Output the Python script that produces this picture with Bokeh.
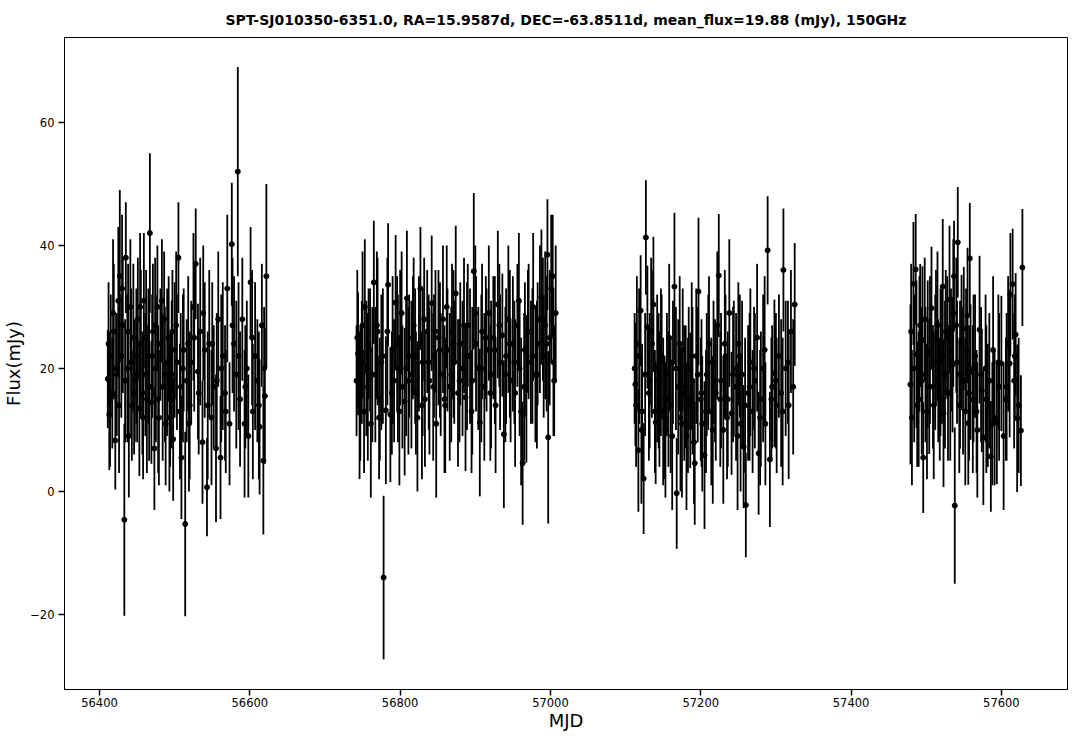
import numpy as np
from bokeh.plotting import figure
from bokeh.models import ColumnDataSource, Range1d, FixedTicker, CustomJSTickFormatter
from bokeh.embed import file_html
from bokeh.resources import INLINE

TITLE = "SPT-SJ010350-6351.0, RA=15.9587d, DEC=-63.8511d, mean_flux=19.88 (mJy), 150GHz"
X_LABEL = "MJD"
Y_LABEL = "Flux(mJy)"
X_TICKS = [56400, 56600, 56800, 57000, 57200, 57400, 57600]
Y_TICKS = [-20, 0, 20, 40, 60]

# ---- season 1 ----
mjd_s1 = [56411, 56413, 56415, 56417, 56419, 56421, 56423, 56425, 56427, 56429,
          56431, 56433, 56435, 56437, 56439, 56441, 56443, 56445, 56447, 56449,
          56451, 56453, 56455, 56457, 56459, 56461, 56463, 56465, 56467, 56469,
          56471, 56473, 56475, 56477, 56479, 56481, 56484, 56486, 56488, 56490,
          56492, 56494, 56496, 56498, 56500, 56502, 56505, 56507, 56509, 56511,
          56514, 56516, 56518, 56520, 56522, 56525, 56528, 56531, 56534, 56537,
          56540, 56543, 56546, 56549, 56552, 56555, 56558, 56561, 56564, 56567,
          56570, 56573, 56576, 56579, 56582, 56584, 56587, 56590, 56593, 56596,
          56598, 56601, 56604, 56607, 56610, 56613, 56616, 56618, 56620, 56622]
flux_s1 = [18.3, 12.5, 22.0, 16.0, 26.0, 8.3, 19.0, 31.0, 35.0, 22.0,
           27.0, -4.6, 38.0, 20.0, 9.0, 30.0, 14.0, 25.0, 18.0, 22.0,
           28.0, 13.5, 24.0, 16.0, 31.0, 19.0, 15.0, 22.0, 42.0, 14.5,
           26.0, 7.0, 20.0, 30.0, 12.0, 24.0, 17.0, 28.0, 11.0, 21.0,
           25.0, 15.0, 19.0, 8.5, 23.0, 27.0, 38.0, 13.0, 5.5, 20.0,
           -5.3, 18.0, 24.0, 14.0, 21.0, 30.0, 37.0, 19.5, 26.0, 8.0,
           23.0, 0.7, 24.0, 12.0, 17.0, 7.0, 28.0, 5.5, 22.0, 16.0,
           33.0, 11.0, 40.2, 24.0, 19.0, 52.0, 15.0, 28.0, 11.0, 20.0,
           9.0, 34.0, 13.0, 22.0, 18.0, 10.5, 27.0, 5.0, 15.5, 35.0]
err_s1 = [8, 9, 10, 9, 11, 8, 10, 12, 14, 10,
          11, 15.6, 9, 12, 10, 11, 9, 12, 10, 11,
          10, 11, 12, 10, 11, 10, 12, 11, 13, 10,
          11, 10, 12, 10, 11, 9, 12, 11, 10, 12,
          10, 11, 12, 10, 11, 12, 9, 11, 10, 12,
          15, 10, 11, 12, 10, 12, 9, 11, 12, 10,
          11, 8, 12, 11, 10, 12, 11, 10, 12, 11,
          12, 10, 10, 11, 12, 17, 11, 10, 12, 11,
          10, 9, 11, 12, 10, 11, 10, 12, 11, 15]
mjd_s1b = [56412, 56414, 56418, 56422, 56426, 56430, 56434, 56438, 56442, 56446,
           56450, 56454, 56458, 56462, 56466, 56470, 56474, 56478, 56483, 56487,
           56493, 56497, 56503, 56508, 56512, 56519, 56526, 56532, 56538, 56544,
           56550, 56556, 56562, 56568, 56577, 56585, 56594, 56603, 56612, 56619]
flux_s1b = [24, 15, 29, 20, 14, 33, 18, 26, 21, 16,
            19, 30, 12, 25, 17, 22, 27, 15, 31, 19,
            12, 26, 21, 17, 23, 11, 25, 16, 29, 14,
            24, 18, 20, 13, 27, 22, 17, 25, 14, 20]
err_s1b = [10, 11, 12, 9, 11, 12, 10, 11, 12, 10,
           11, 12, 10, 11, 12, 10, 11, 12, 10, 11,
           12, 10, 11, 12, 10, 11, 12, 10, 11, 12,
           10, 11, 12, 10, 11, 12, 10, 11, 12, 10]

# ---- season 2 ----
mjd_s2 = [56742, 56744, 56747, 56750, 56752, 56755, 56758, 56761, 56765, 56767,
          56770, 56773, 56775, 56778, 56781, 56784, 56787, 56790, 56792, 56794,
          56797, 56800, 56803, 56806, 56809, 56812, 56815, 56818, 56821, 56823,
          56825, 56827, 56830, 56833, 56836, 56839, 56842, 56845, 56848, 56851,
          56854, 56857, 56860, 56863, 56866, 56869, 56872, 56874, 56877, 56880,
          56883, 56887, 56890, 56893, 56896, 56898, 56901, 56904, 56906, 56909,
          56912, 56915, 56918, 56921, 56924, 56927, 56930, 56933, 56936, 56938,
          56941, 56944, 56947, 56950, 56953, 56956, 56959, 56961, 56963, 56966,
          56968, 56971, 56974, 56977, 56980, 56983, 56986, 56988, 56991, 56993,
          56996, 56997, 56999, 57001, 57003, 57005, 57007]
flux_s2 = [18.0, 22.4, 16.0, 27.0, 13.0, 20.0, 24.0, 11.0, 34.0, 19.0,
           26.0, 15.0, 21.0, -14.0, 13.2, 33.6, 12.5, 23.0, 18.0, 30.7,
           20.0, 25.0, 17.0, 14.6, 31.4, 22.0, 19.0, 27.0, 16.0, 12.0,
           24.0, 33.0, 21.0, 15.0, 26.0, 18.0, 30.6, 22.0, 11.0, 25.0,
           19.0, 28.0, 14.0, 23.0, 17.0, 26.0, 21.0, 32.2, 16.0, 24.0,
           20.0, 15.3, 27.0, 22.0, 18.0, 35.8, 24.0, 20.0, 11.2, 26.0,
           17.0, 23.0, 29.0, 19.0, 25.0, 14.0, 30.4, 21.0, 25.4, 9.3,
           22.0, 28.0, 18.0, 24.0, 16.0, 27.0, 20.0, 13.0, 4.6, 23.0,
           16.7, 26.0, 21.0, 30.0, 19.0, 24.0, 28.0, 31.6, 22.0, 27.0,
           38.5, 8.8, 25.0, 33.0, 35.0, 18.0, 29.0]
err_s2 = [9, 10, 11, 12, 10, 11, 9, 12, 10, 11,
          12, 10, 11, 13.3, 12, 10, 11, 12, 10, 11,
          12, 11, 10, 12, 11, 10, 12, 11, 10, 12,
          11, 10, 12, 11, 10, 12, 11, 10, 12, 11,
          10, 12, 11, 10, 12, 11, 10, 11, 12, 10,
          11, 12, 10, 11, 12, 12.7, 11, 10, 12, 11,
          12, 10, 11, 12, 10, 11, 12, 11, 10, 12,
          11, 12, 10, 11, 12, 10, 11, 12, 10, 11,
          12, 11, 10, 12, 11, 10, 12, 11, 10, 12,
          9, 14, 11, 12, 10, 9, 11]
mjd_s2b = [56743, 56746, 56749, 56753, 56757, 56760, 56763, 56769, 56772, 56777,
           56783, 56789, 56796, 56799, 56802, 56808, 56811, 56817, 56820, 56829,
           56832, 56838, 56844, 56847, 56853, 56859, 56862, 56868, 56871, 56879,
           56885, 56889, 56895, 56900, 56908, 56914, 56920, 56926, 56932, 56940,
           56946, 56952, 56958, 56965, 56970, 56976, 56982, 56990, 56995, 57004]
flux_s2b = [25, 14, 21, 30, 17, 23, 19, 27, 12, 22,
            26, 16, 24, 13, 29, 20, 18, 25, 22, 14,
            28, 21, 17, 26, 23, 15, 30, 19, 24, 18,
            27, 22, 13, 29, 20, 25, 16, 23, 27, 19,
            24, 21, 31, 17, 26, 22, 19, 28, 24, 21]
err_s2b = [11, 12, 10, 11, 12, 10, 11, 12, 10, 11,
           12, 10, 11, 12, 10, 11, 12, 10, 11, 12,
           10, 11, 12, 10, 11, 12, 10, 11, 12, 10,
           11, 12, 10, 11, 12, 10, 11, 12, 10, 11,
           12, 10, 11, 12, 10, 11, 12, 10, 11, 12]

# ---- season 3 ----
mjd_s3 = [57112, 57113, 57115, 57117, 57120, 57122, 57124, 57127, 57129, 57132,
          57135, 57137, 57140, 57142, 57145, 57148, 57150, 57153, 57155, 57158,
          57160, 57163, 57165, 57168, 57170, 57173, 57176, 57178, 57181, 57184,
          57186, 57189, 57192, 57194, 57197, 57200, 57202, 57205, 57208, 57211,
          57214, 57217, 57220, 57222, 57224, 57227, 57230, 57233, 57236, 57238,
          57241, 57244, 57247, 57250, 57253, 57255, 57257, 57260, 57263, 57266,
          57269, 57272, 57275, 57277, 57280, 57283, 57286, 57289, 57292, 57295,
          57298, 57301, 57304, 57307, 57310, 57313, 57317, 57320, 57323, 57325]
flux_s3 = [20.0, 17.4, 24.0, 6.7, 29.4, 13.0, 2.1, 41.3, 26.7, 18.0,
           24.0, 30.4, 11.2, 20.0, 15.0, 22.0, 13.0, 10.0, 19.0, 25.0,
           14.0, 21.0, 33.3, -0.3, 17.0, 12.0, 23.0, 16.0, 9.0, 20.0,
           14.8, 18.0, 4.6, 22.0, 32.5, 15.0, 11.0, 5.9, 19.0, 24.0,
           13.0, 21.0, 16.0, 27.0, 35.1, 18.0, 10.0, 22.0, 15.0, 29.0,
           12.7, 20.0, 17.0, 24.0, 11.0, 19.0, 7.3, -2.2, 16.0, 21.0,
           13.0, 18.0, 25.0, 6.2, 15.0, 20.0, 11.0, 39.2, 5.2, 17.0,
           19.2, 14.0, 22.0, 16.0, 36.0, 20.0, 14.0, 26.0, 17.0, 30.4]
err_s3 = [9, 10, 11, 10, 9, 11, 9, 9.3, 10, 11,
          12, 11, 10, 12, 11, 10, 12, 11, 10, 12,
          11, 10, 12, 9, 11, 12, 10, 11, 12, 10,
          11, 12, 10, 11, 12, 10, 11, 12, 10, 11,
          12, 10, 11, 12, 10, 11, 12, 10, 11, 12,
          10, 11, 12, 10, 11, 12, 10, 8.5, 11, 12,
          10, 11, 12, 10, 11, 12, 10, 8.8, 11, 10,
          12, 11, 10, 12, 10, 11, 12, 10, 11, 10]
mjd_s3b = [57114, 57118, 57121, 57126, 57131, 57134, 57139, 57144, 57147, 57152,
           57157, 57162, 57167, 57172, 57175, 57180, 57183, 57188, 57191, 57196,
           57201, 57207, 57210, 57216, 57219, 57226, 57232, 57235, 57243, 57249,
           57252, 57259, 57265, 57271, 57279, 57285, 57294, 57300, 57309, 57316]
flux_s3b = [14, 22, 10, 19, 16, 26, 13, 18, 21, 12,
            15, 9, 20, 24, 11, 17, 14, 22, 8, 19,
            16, 13, 21, 10, 18, 15, 24, 12, 19, 9,
            22, 14, 17, 20, 12, 23, 15, 18, 13, 21]
err_s3b = [10, 11, 12, 10, 11, 12, 10, 11, 12, 10,
           11, 12, 10, 11, 12, 10, 11, 12, 10, 11,
           12, 10, 11, 12, 10, 11, 12, 10, 11, 12,
           10, 11, 12, 10, 11, 12, 10, 11, 12, 10]

# ---- season 4 ----
mjd_s4 = [57479, 57481, 57483, 57486, 57487, 57490, 57492, 57495, 57496, 57499,
          57502, 57504, 57507, 57510, 57513, 57516, 57519, 57522, 57523, 57526,
          57529, 57531, 57533, 57535, 57537, 57538, 57540, 57542, 57545, 57547,
          57550, 57552, 57555, 57556, 57558, 57559, 57562, 57565, 57568, 57571,
          57574, 57576, 57579, 57582, 57584, 57586, 57589, 57591, 57594, 57597,
          57600, 57603, 57606, 57609, 57611, 57612, 57615, 57617, 57619, 57621,
          57623, 57626, 57628]
flux_s4 = [17.4, 12.0, 33.8, 36.1, 22.3, 15.0, 27.0, 24.6, 5.5, 19.0,
           22.3, 17.1, 29.8, 14.0, 25.0, 18.0, 21.0, 33.3, 12.7, 26.0,
           16.0, 31.2, 23.0, 20.6, 35.0, -2.3, 27.0, 40.5, 19.0, 24.2,
           26.5, 13.0, 28.6, 11.1, 37.9, 19.4, 15.0, 22.0, 10.0, 26.3,
           16.4, 8.8, 20.0, 14.0, 18.0, 5.7, 23.0, 12.0, 11.2, 17.0,
           20.8, 9.0, 15.0, 24.0, 20.8, 32.0, 33.7, 18.0, 25.5, 11.9,
           14.0, 9.9, 36.4]
err_s4 = [13, 11, 10, 9, 12, 11, 10, 12, 9, 11,
          12, 11, 10, 12, 11, 10, 12, 11, 12, 10,
          11, 12, 10, 11, 9, 12.7, 11, 9, 12, 11,
          10, 12, 11, 10, 9, 11, 12, 10, 11, 12,
          10, 11, 12, 10, 11, 9, 12, 11, 10, 12,
          11, 12, 10, 11, 12, 10, 9, 11, 10, 12,
          11, 9, 9.5]
mjd_s4b = [57480, 57484, 57488, 57491, 57494, 57498, 57501, 57505, 57509, 57512,
           57515, 57518, 57521, 57525, 57528, 57532, 57536, 57541, 57544, 57549,
           57553, 57557, 57563, 57567, 57573, 57580, 57588, 57596, 57607, 57618]
flux_s4b = [26, 20, 14, 24, 18, 28, 13, 23, 17, 21,
            27, 15, 22, 19, 25, 16, 29, 21, 14, 18,
            23, 16, 20, 13, 19, 15, 11, 21, 17, 22]
err_s4b = [11, 12, 10, 11, 12, 10, 11, 12, 10, 11,
           12, 10, 11, 12, 10, 11, 12, 10, 11, 12,
           10, 11, 12, 10, 11, 12, 10, 11, 12, 10]

mjd = np.array(mjd_s1 + mjd_s1b + mjd_s2 + mjd_s2b + mjd_s3 + mjd_s3b + mjd_s4 + mjd_s4b, dtype=float)
flux = np.array(flux_s1 + flux_s1b + flux_s2 + flux_s2b + flux_s3 + flux_s3b + flux_s4 + flux_s4b, dtype=float)
err = np.array(err_s1 + err_s1b + err_s2 + err_s2b + err_s3 + err_s3b + err_s4 + err_s4b, dtype=float)

src = ColumnDataSource(dict(x=mjd, y=flux, lo=flux - err, hi=flux + err))

FONT = "DejaVu Sans"
X0, X1 = 56353.4, 57688
Y0, Y1 = -32.2, 73.8

p = figure(frame_width=1003, frame_height=652, output_backend="svg", toolbar_location=None,
           x_range=Range1d(X0, X1), y_range=Range1d(Y0, Y1),
           min_border_left=0, min_border_right=6, min_border_top=0, min_border_bottom=0)

p.title.text = TITLE
p.title.align = "center"
p.title.text_font = FONT
p.title.text_font_size = "14px"
p.title.text_font_style = "bold"
p.title.text_color = "black"
p.title.standoff = 19

p.segment(x0="x", y0="lo", x1="x", y1="hi", source=src, line_color="black", line_width=1.8)
p.scatter(x="x", y="y", source=src, size=5, fill_color="black", line_color="black")

p.xgrid.visible = False
p.ygrid.visible = False
p.outline_line_color = "black"
p.outline_line_width = 1
p.background_fill_color = "white"
p.border_fill_color = "white"

p.xaxis.ticker = FixedTicker(ticks=X_TICKS)
p.yaxis.ticker = FixedTicker(ticks=Y_TICKS)
p.yaxis.formatter = CustomJSTickFormatter(code="return (tick < 0 ? '\\u2212' : '') + Math.abs(tick).toFixed(0);")
p.xaxis.axis_label = X_LABEL
p.yaxis.axis_label = Y_LABEL
for ax in (p.xaxis[0], p.yaxis[0]):
    ax.axis_label_text_font = FONT
    ax.axis_label_text_font_size = "18px"
    ax.axis_label_text_font_style = "normal"
    ax.axis_label_text_color = "black"
    ax.major_label_text_font = FONT
    ax.major_label_text_font_size = "11.5px"
    ax.major_label_text_color = "black"
    ax.major_tick_in = 0
    ax.major_tick_out = 6
    ax.major_tick_line_width = 1.5
    ax.major_tick_line_color = "black"
    ax.minor_tick_line_color = None
    ax.axis_line_color = "black"
    ax.axis_line_width = 1
p.xaxis.axis_label_standoff = 0
p.yaxis.axis_label_standoff = 3
p.xaxis.major_label_standoff = 2
p.yaxis.major_label_standoff = 4

open("out.html", "w").write(file_html(p, INLINE))
